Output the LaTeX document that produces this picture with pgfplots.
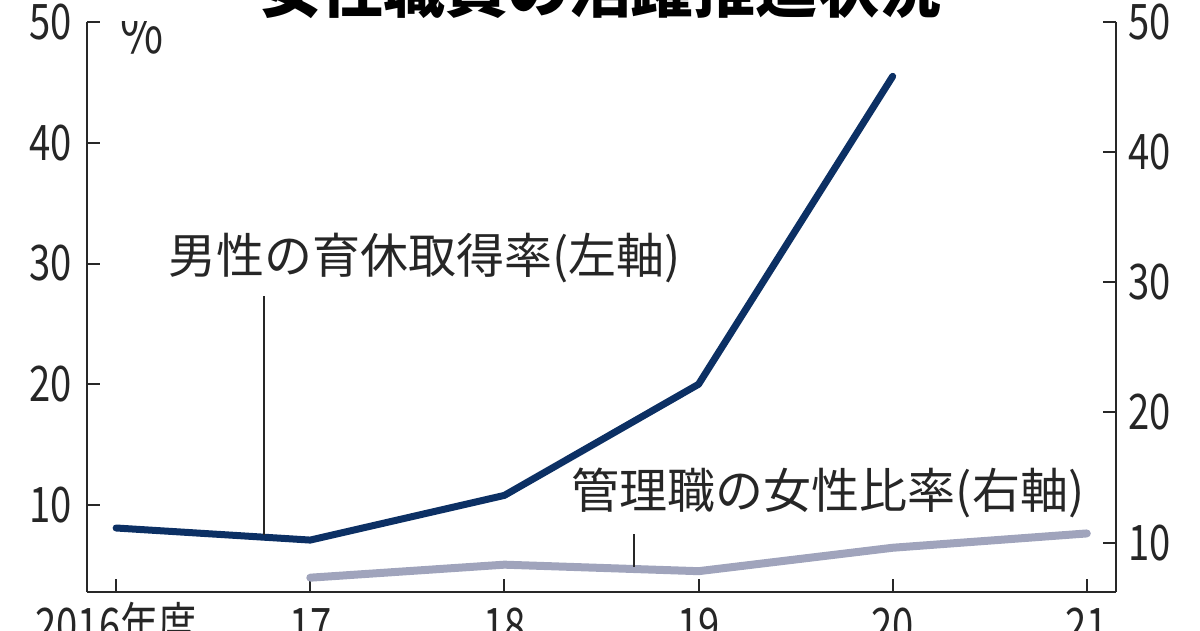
\documentclass[border=0pt]{standalone}
\usepackage{fontspec}
\setmainfont{Noto Sans CJK JP}
\newfontfamily\numfont{Noto Sans CJK JP}[FakeStretch=0.78]
\usepackage{pgfplots}
\usepackage{pgfplotstable}
\pgfplotsset{compat=1.18}
\definecolor{navy}{RGB}{12,48,100}
\definecolor{lav}{RGB}{160,164,188}
\definecolor{axgray}{RGB}{40,40,40}

% male childcare leave rate (left axis)
\pgfplotstableread{
x y
0 8.1
1 7.1
2 10.8
3 20.0
4 45.5
}\male
% share of women among managers (right axis)
\pgfplotstableread{
x y
1 7.3
2 8.3
3 7.8
4 9.6
5 10.7
}\female

\begin{document}
\begin{tikzpicture}
\pgfplotsset{
  base/.style={
    at={(87pt,38pt)}, anchor=south west,
    scale only axis, width=1029pt, height=570pt,
    xmin=-0.15, xmax=5.15,
    ymax=50, ytick={10,20,30,40,50},
    /pgf/number format/assume math mode=true,
    tick style={axgray, line width=2pt},
    axis line style={axgray, line width=2pt},
    major tick length=13pt,
    tick align=inside,
    ticklabel style={font=\fontsize{49}{49}\selectfont\numfont, text=black!85, inner sep=0pt},
  }
}
\begin{axis}[base,
  axis x line*=bottom, axis y line*=left,
  ymin=2.8,
  xtick={0,...,5}, xticklabels={2016年度,17,18,19,20,21},
  xticklabel style={anchor=north, text height=36pt, yshift=-15pt},
  yticklabel style={anchor=east, xshift=-15pt},
]
\addplot[navy, line width=7pt, line cap=round, line join=round] table {\male};
\node[anchor=base west, inner sep=0pt, text=black!85, font=\fontsize{48}{48}\selectfont] at (axis cs:0.267,29.2) {男性の育休取得率(左軸)};
\draw[black!85, line width=2pt] (axis cs:0.761,27.3) -- (axis cs:0.761,7.52);
\node[anchor=base west, inner sep=0pt, text=black!85, font=\fontsize{60}{60}\selectfont\numfont] at (axis cs:0.02,47.4) {\%};
\end{axis}
\begin{axis}[base,
  axis x line=none, axis y line*=right,
  ymin=6.2,
  yticklabel style={anchor=west, xshift=12pt},
]
\addplot[lav, line width=8pt, line cap=round, line join=round] table {\female};
\node[anchor=base west, inner sep=0pt, text=black!85, font=\fontsize{48}{48}\selectfont] at (axis cs:2.347,12.62) {管理職の女性比率(右軸)};
\draw[black!85, line width=2pt] (axis cs:2.667,10.62) -- (axis cs:2.667,8.15);
\end{axis}
\node[anchor=base, inner sep=0pt, font=\fontsize{62}{62}\selectfont\bfseries] at (600pt,617pt) {女性職員の活躍推進状況};
\pgfresetboundingbox
\useasboundingbox (0,0) rectangle (1200pt,630pt);
\end{tikzpicture}
\end{document}
